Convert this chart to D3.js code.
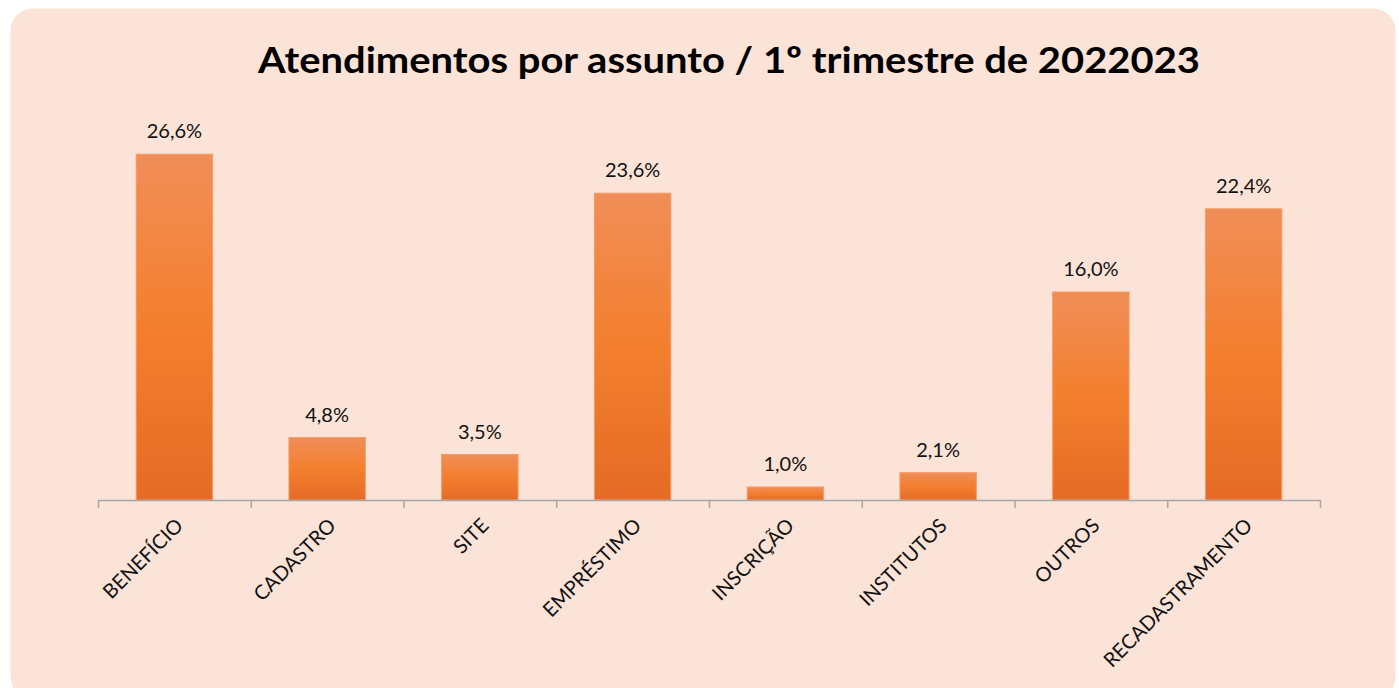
<!DOCTYPE html>
<html>
<head>
<meta charset="utf-8">
<script src="https://cdn.jsdelivr.net/npm/d3@7"></script>
<style>
  body { margin: 0; background: #ffffff; }
  svg { display: block; font-family: Lato, "Open Sans", sans-serif; }
</style>
</head>
<body>
<div id="chart"></div>
<script>
const categories = ['BENEFÍCIO', 'CADASTRO', 'SITE', 'EMPRÉSTIMO', 'INSCRIÇÃO', 'INSTITUTOS', 'OUTROS', 'RECADASTRAMENTO'];
const values = [26.6, 4.8, 3.5, 23.6, 1.0, 2.1, 16.0, 22.4];
const title = 'Atendimentos por assunto / 1º trimestre de 2022023';

const width = 1399;
const height = 688;
const margin = { top: 110, right: 79, bottom: 188, left: 98 };

const svg = d3.select('#chart')
  .append('svg')
  .attr('width', width)
  .attr('height', height);

const defs = svg.append('defs');
const grad = defs.append('linearGradient')
  .attr('id', 'barGrad')
  .attr('x1', 0).attr('y1', 0).attr('x2', 0).attr('y2', 1);
grad.append('stop').attr('offset', '0%').attr('stop-color', '#F08E58');
grad.append('stop').attr('offset', '50%').attr('stop-color', '#F37F2E');
grad.append('stop').attr('offset', '100%').attr('stop-color', '#E56B26');

// panel background
svg.append('rect')
  .attr('x', 10.5)
  .attr('y', 8.5)
  .attr('width', 1385)
  .attr('height', 690)
  .attr('rx', 22)
  .attr('fill', '#FBE3D7');

svg.append('text')
  .attr('x', 729)
  .attr('y', 73)
  .attr('text-anchor', 'middle')
  .style('font-family', 'Lato, "Open Sans", sans-serif')
  .style('font-weight', 'bold')
  .style('font-size', '37px')
  .attr('textLength', 942)
  .attr('lengthAdjust', 'spacingAndGlyphs')
  .attr('fill', '#000')
  .text(title);

const xScale = d3.scaleBand()
  .domain(categories)
  .range([margin.left, width - margin.right])
  .paddingInner(0.5)
  .paddingOuter(0.25);

const yScale = d3.scaleLinear()
  .domain([0, 30])
  .range([height - margin.bottom, margin.top]);

const g = svg.append('g');

g.selectAll('rect.bar')
  .data(values)
  .enter()
  .append('rect')
  .attr('class', 'bar')
  .attr('x', (d, i) => xScale(categories[i]))
  .attr('y', d => yScale(d))
  .attr('width', xScale.bandwidth())
  .attr('height', d => yScale(0) - yScale(d))
  .attr('fill', 'url(#barGrad)')
  .attr('stroke', '#F59A62')
  .attr('stroke-width', 1);

g.selectAll('text.value')
  .data(values)
  .enter()
  .append('text')
  .attr('class', 'value')
  .attr('x', (d, i) => xScale(categories[i]) + xScale.bandwidth() / 2)
  .attr('y', d => yScale(d) - 16)
  .attr('text-anchor', 'middle')
  .style('font-size', '20px')
  .attr('fill', '#111')
  .text(d => d.toFixed(1).replace('.', ',') + '%');

// axis with ticks at category boundaries
const axisScale = d3.scaleLinear()
  .domain([0, categories.length])
  .range([margin.left, width - margin.right]);

const axis = g.append('g')
  .attr('transform', `translate(0,${yScale(0)})`)
  .call(d3.axisBottom(axisScale)
    .tickValues(d3.range(categories.length + 1))
    .tickSize(8)
    .tickSizeOuter(0)
    .tickFormat(''));
axis.select('.domain').attr('stroke', '#A6A6A6').attr('stroke-width', 1.5);
axis.selectAll('.tick line').attr('stroke', '#A6A6A6').attr('stroke-width', 1.5);

g.selectAll('text.cat')
  .data(categories)
  .enter()
  .append('text')
  .attr('class', 'cat')
  .attr('transform', d => `translate(${xScale(d) + xScale.bandwidth() / 2 + 5},${yScale(0) + 22}) rotate(-45)`)
  .attr('text-anchor', 'end')
  .attr('dy', '0.35em')
  .style('font-size', '20px')
  .attr('fill', '#111')
  .text(d => d);
</script>
</body>
</html>
